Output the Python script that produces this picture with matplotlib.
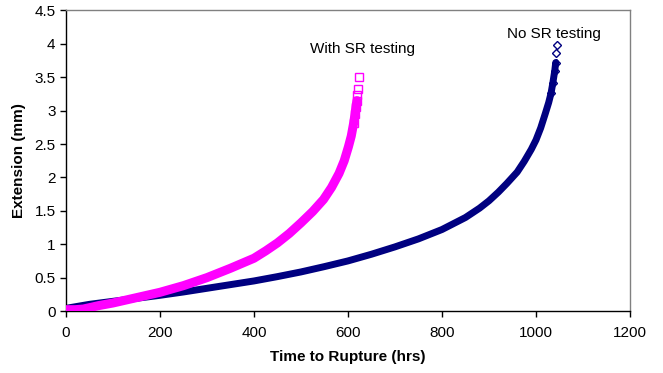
import matplotlib
matplotlib.use('Agg')
from matplotlib import pyplot as plt

# With SR testing (magenta squares)
with_sr_time = [0, 20, 37, 50, 69, 100, 150, 200, 250, 300, 350, 400, 425,
                450, 475, 500, 525, 548, 565, 581, 592, 601, 607, 612, 615,
                617, 619, 620, 621, 623]
with_sr_ext = [0.02, 0.02, 0.03, 0.05, 0.08, 0.12, 0.20, 0.28, 0.38, 0.50,
               0.64, 0.79, 0.90, 1.02, 1.16, 1.32, 1.49, 1.67, 1.85, 2.06,
               2.25, 2.46, 2.62, 2.81, 2.95, 3.06, 3.15, 3.23, 3.33, 3.51]

# No SR testing (navy diamonds)
no_sr_time = [0, 50, 100, 150, 200, 250, 300, 350, 400, 450, 500, 550, 600,
              650, 700, 750, 800, 850, 880, 900, 920, 938, 960, 975, 990,
              1000, 1010, 1020, 1027, 1032, 1036, 1040, 1042, 1043, 1044]
no_sr_ext = [0.04, 0.10, 0.145, 0.19, 0.235, 0.285, 0.34, 0.395, 0.45, 0.515,
             0.585, 0.665, 0.75, 0.85, 0.96, 1.08, 1.22, 1.40, 1.54, 1.65,
             1.78, 1.91, 2.08, 2.24, 2.42, 2.56, 2.74, 2.96, 3.12, 3.26,
             3.42, 3.60, 3.72, 3.86, 3.98]

plt.rcParams['font.family'] = ['Liberation Sans', 'DejaVu Sans']

fig = plt.figure(figsize=(6.63, 3.73), dpi=100)
ax = fig.add_axes([0.0995, 0.1662, 0.8507, 0.8058])

magenta = '#FF00FF'
navy = '#000080'

# dense bands of overlapping markers -> thick line, open markers near the top
ax.plot(no_sr_time[:-2], no_sr_ext[:-2], color=navy, lw=5.0,
        solid_capstyle='round', solid_joinstyle='round', zorder=2)
ax.plot(no_sr_time, no_sr_ext, linestyle='none', marker='D', ms=4.2,
        mfc='none', mec=navy, mew=1.0, zorder=3,
        markevery=list(range(len(no_sr_time) - 6, len(no_sr_time))))

ax.plot(with_sr_time[:-3], with_sr_ext[:-3], color=magenta, lw=6.5,
        solid_capstyle='round', solid_joinstyle='round', zorder=4)
ax.plot(with_sr_time, with_sr_ext, linestyle='none', marker='s', ms=5.2,
        mfc='none', mec=magenta, mew=1.0, zorder=5,
        markevery=list(range(len(with_sr_time) - 7, len(with_sr_time))))

ax.text(631, 3.92, 'With SR testing', ha='center', va='center', fontsize=11)
ax.text(1039, 4.14, 'No SR testing', ha='center', va='center', fontsize=11)

ax.set_xlim(0, 1200)
ax.set_ylim(0, 4.5)
ax.set_xticks(range(0, 1201, 200))
ax.set_yticks([0, 0.5, 1, 1.5, 2, 2.5, 3, 3.5, 4, 4.5])
ax.set_yticklabels(['0', '0.5', '1', '1.5', '2', '2.5', '3', '3.5', '4', '4.5'])
ax.tick_params(direction='out', length=4, width=1, labelsize=11, colors='black')
ax.tick_params(axis='x', pad=7)

for side in ['top', 'right']:
    ax.spines[side].set_color('#808080')
    ax.spines[side].set_linewidth(1)
for side in ['left', 'bottom']:
    ax.spines[side].set_color('#000000')
    ax.spines[side].set_linewidth(1)

ax.set_xlabel('Time to Rupture (hrs)', fontsize=11, fontweight='bold', labelpad=7)
ax.set_ylabel('Extension (mm)', fontsize=11, fontweight='bold', labelpad=6)

plt.savefig('out.png', dpi=100)
plt.close()
